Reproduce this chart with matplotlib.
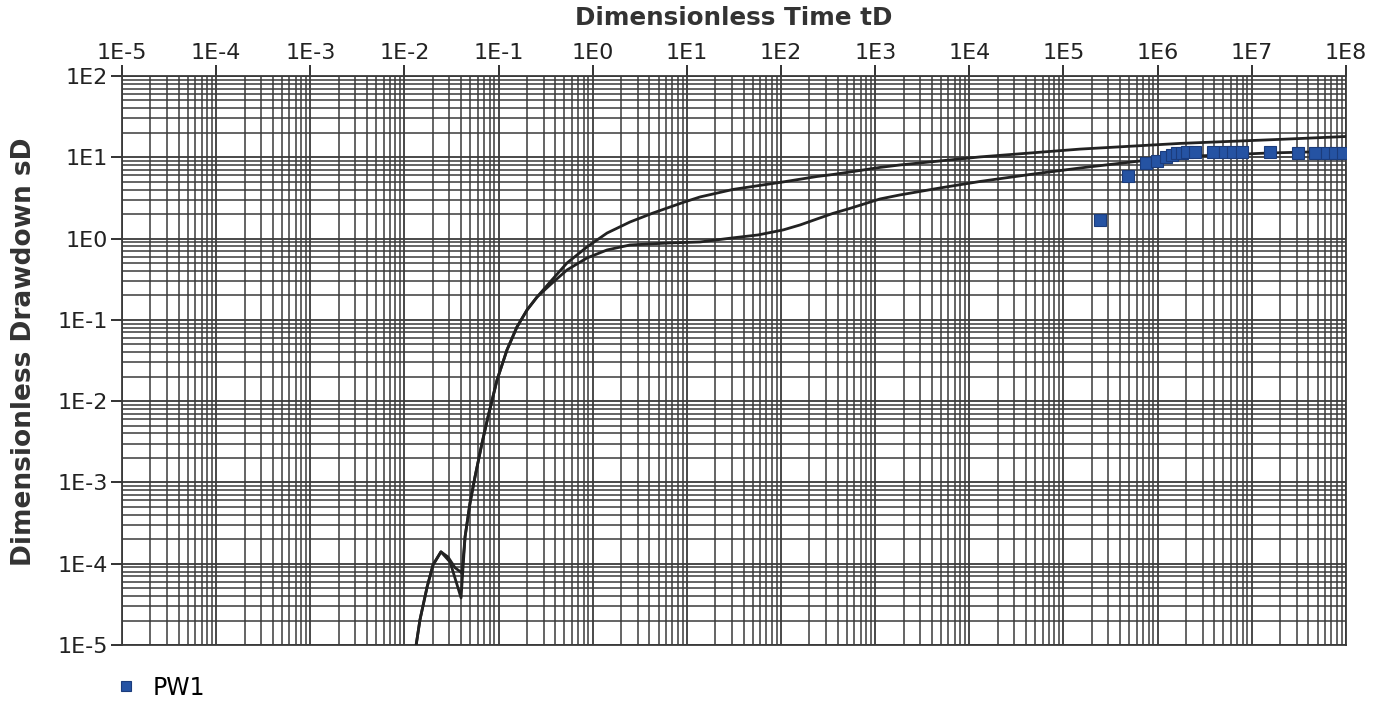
import numpy as np
import matplotlib
matplotlib.use("Agg")
import matplotlib.pyplot as plt
from matplotlib.ticker import LogLocator, FuncFormatter, NullFormatter

# type curve 1 (upper at late time)
td_curve1 = [0.0133, 0.0146, 0.0174, 0.0201, 0.0244, 0.0290, 0.0345, 0.0408,
             0.0440, 0.0497, 0.0561, 0.0667, 0.0771, 0.0962, 0.1227, 0.1567,
             0.2004, 0.256, 0.352, 0.533, 0.869, 1.42, 2.49, 4.36, 9.1, 13.8,
             30.9, 46.8, 105, 241, 356, 540, 1125, 1832, 1.30e4, 1.50e5,
             1.73e6, 2.0e7, 1.0e8]
sd_curve1 = [1.0e-5, 2.04e-5, 5.19e-5, 9.67e-5, 1.40e-4, 1.21e-4, 8.9e-5, 7.7e-5,
             2.14e-4, 5.6e-4, 1.17e-3, 3.06e-3, 6.4e-3, 0.0182, 0.0427, 0.0818,
             0.1324, 0.191, 0.292, 0.501, 0.789, 1.17, 1.60, 2.06, 2.78, 3.25,
             4.02, 4.32, 4.97, 5.80, 6.14, 6.59, 7.50, 8.04, 10.1, 12.6,
             14.8, 16.6, 18.0]

# type curve 2 (lower at late time)
td_curve2 = [0.0133, 0.0146, 0.0174, 0.0201, 0.0244, 0.0305, 0.0399,
             0.0440, 0.0497, 0.0561, 0.0667, 0.0771, 0.0962, 0.1227, 0.1567,
             0.2004, 0.256, 0.352, 0.533, 0.869, 1.42, 2.49, 6.61, 13.8, 30.9,
             56.9, 105, 159, 241, 356, 540, 1125, 1832, 4875, 1.30e4, 4.41e4,
             1.50e5, 6.5e5, 2.82e6, 1.56e7, 1.0e8]
sd_curve2 = [1.0e-5, 2.04e-5, 5.19e-5, 9.67e-5, 1.40e-4, 1.05e-4, 3.8e-5,
             2.14e-4, 5.6e-4, 1.17e-3, 3.06e-3, 6.4e-3, 0.0182, 0.0427, 0.0818,
             0.1324, 0.191, 0.269, 0.411, 0.577, 0.724, 0.834, 0.883, 0.908, 1.02,
             1.107, 1.276, 1.469, 1.742, 2.04, 2.35, 3.07, 3.44, 4.19, 5.04, 6.14,
             7.38, 9.0, 10.4, 11.3, 11.9]

# observation well PW1
td_pw1 = [2.44e5, 4.84e5, 7.5e5, 9.85e5, 1.23e6, 1.42e6, 1.61e6, 1.81e6, 2.05e6,
          2.49e6, 3.87e6, 5.19e6, 6.31e6, 7.87e6, 1.56e7, 3.09e7, 4.68e7,
          6.3e7, 7.6e7, 9.3e7]
sd_pw1 = [1.69, 5.9, 8.5, 9.0, 10.1, 10.7, 11.3, 11.3, 11.6,
          11.6, 11.6, 11.6, 11.6, 11.6, 11.6, 11.3, 11.3,
          11.3, 11.3, 11.3]

fig = plt.figure(figsize=(13.9, 7.06), dpi=100)
ax = fig.add_axes([0.0878, 0.0864, 0.8805, 0.806])

grid_col = "#3a3a3a"
ax.plot(td_curve1, sd_curve1, color="#222222", lw=2.0, zorder=3)
ax.plot(td_curve2, sd_curve2, color="#222222", lw=2.0, zorder=3)
ax.plot(td_pw1, sd_pw1, ls="none", marker="s", ms=8.5, mfc="#2553a3",
        mec="#1b3c7c", mew=0.8, label="PW1", zorder=4)

ax.set_xscale("log")
ax.set_yscale("log")
ax.set_xlim(1e-5, 1e8)
ax.set_ylim(1e-5, 1e2)

for axis in (ax.xaxis, ax.yaxis):
    axis.set_major_locator(LogLocator(base=10, numticks=30))
    axis.set_minor_locator(LogLocator(base=10, subs=np.arange(2, 10), numticks=300))
    axis.set_minor_formatter(NullFormatter())
    axis.set_major_formatter(FuncFormatter(lambda v, p: "1E%d" % int(round(np.log10(v)))))

ax.grid(True, which="major", color=grid_col, lw=1.3)
ax.grid(True, which="minor", color=grid_col, lw=1.1)
ax.set_axisbelow(True)

ax.xaxis.tick_top()
ax.xaxis.set_label_position("top")
ax.tick_params(axis="x", which="major", direction="out", length=8, width=1.3,
               labelsize=16, pad=1, colors="#222222")
ax.tick_params(axis="y", which="major", direction="out", length=8, width=1.3,
               labelsize=16, pad=2, colors="#222222")
ax.tick_params(which="minor", length=0)
for s in ax.spines.values():
    s.set_color(grid_col)
    s.set_linewidth(1.3)

ax.set_xlabel("Dimensionless Time tD", fontsize=17.7, fontweight="bold",
              color="#333333", labelpad=13)
ax.set_ylabel("Dimensionless Drawdown sD", fontsize=19, fontweight="bold",
              color="#333333", labelpad=15)
ax.yaxis.label.set_y(0.516)

fig.legend(loc="center left", bbox_to_anchor=(0.084, 0.026), frameon=False,
           fontsize=17, handlelength=0.6, handletextpad=0.8, markerscale=0.8,
           borderpad=0.1, borderaxespad=0)

fig.savefig("out.png", dpi=100, facecolor="white")
